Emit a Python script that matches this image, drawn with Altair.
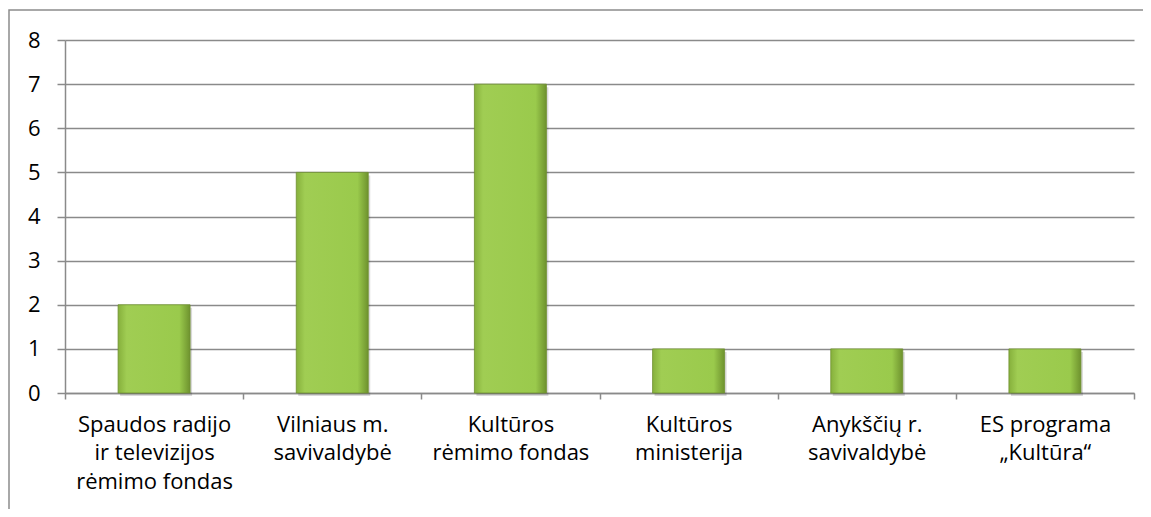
import altair as alt
import pandas as pd

categories = [
    "Spaudos radijo\nir televizijos\nrėmimo fondas",
    "Vilniaus m.\nsavivaldybė",
    "Kultūros\nrėmimo fondas",
    "Kultūros\nministerija",
    "Anykščių r.\nsavivaldybė",
    "ES programa\n„Kultūra“",
]
values = [2, 5, 7, 1, 1, 1]

df = pd.DataFrame({"cat": categories, "val": values})

W, H = 1069, 353
FONT = "Open Sans"
GRID = "#8a8a8a"

x_enc = alt.X(
    "cat:N",
    sort=categories,
    title=None,
    scale=alt.Scale(paddingInner=0, paddingOuter=0),
    axis=alt.Axis(
        labelAngle=0,
        labelExpr="split(datum.label, '\\n')",
        labelFont=FONT,
        labelFontSize=22,
        labelColor="#000000",
        labelLineHeight=28.5,
        labelPadding=15,
        labelBaseline="top",
        tickBand="extent",
        tickSize=6,
        tickColor=GRID,
        domainColor=GRID,
        domainWidth=1.5,
        tickWidth=1.5,
        grid=False,
    ),
)
y_enc = alt.Y(
    "val:Q",
    title=None,
    scale=alt.Scale(domain=[0, 8], nice=False),
    axis=alt.Axis(
        values=list(range(0, 9)),
        labelFont=FONT,
        labelFontSize=22,
        labelColor="#000000",
        labelPadding=17,
        tickSize=8,
        tickColor=GRID,
        tickWidth=1.5,
        domainColor=GRID,
        domainWidth=1.5,
        gridColor=GRID,
        gridWidth=1.5,
    ),
)

base = alt.Chart(df)

shadow = base.mark_bar(size=72, color="#000000", opacity=0.15, xOffset=2, yOffset=3).encode(
    x=x_enc, y=y_enc
)

bars = base.mark_bar(
    size=72,
    stroke="#6f9130",
    strokeWidth=0.8,
    color=alt.Gradient(
        gradient="linear",
        x1=0, y1=0, x2=1, y2=0,
        stops=[
            alt.GradientStop(color="#86b03c", offset=0),
            alt.GradientStop(color="#a0cd53", offset=0.12),
            alt.GradientStop(color="#9aca4c", offset=0.85),
            alt.GradientStop(color="#6e922e", offset=1),
        ],
    ),
).encode(x=x_enc, y=y_enc)

border = alt.Chart(pd.DataFrame({"a": [0]})).mark_rect(
    fill=None, stroke="#8c8c8c", strokeWidth=1.5
).encode(
    x=alt.value(-56), x2=alt.value(W + 60),
    y=alt.value(-30), y2=alt.value(H + 140),
)

chart = alt.layer(shadow, bars, border).properties(
    width=W,
    height=H,
    autosize=alt.AutoSizeParams(type="none"),
    padding={"left": 57, "top": 32, "right": 9, "bottom": 116},
).configure_view(stroke=None)

chart.save("out.html", embed_options={"renderer": "svg", "actions": False})
